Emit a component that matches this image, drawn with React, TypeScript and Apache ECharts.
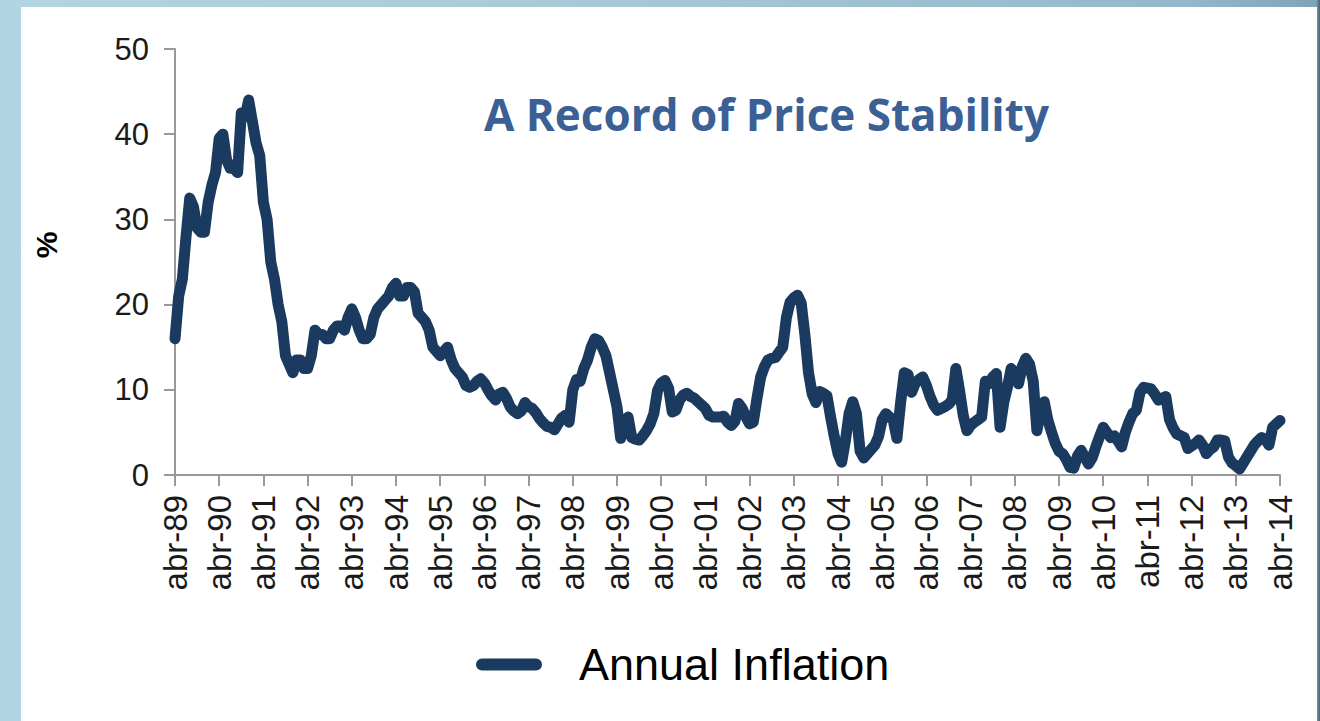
import React, { useEffect, useRef } from "react";
import * as echarts from "echarts";

const monthNames = ["ene", "feb", "mar", "abr", "may", "jun", "jul", "ago", "sep", "oct", "nov", "dic"];
const startYear = 1989;
const startMonth = 3; // abr

const inflation = [
  16, 21, 23, 28, 32.5, 31.5, 29, 28.5, 28.5, 32, 34, 35.5,
  39.5, 40, 37, 36, 36, 35.5, 42.5, 42, 44, 41.5, 39, 37.5,
  32, 30, 25, 23, 20, 18, 14, 13, 12, 13.5, 13.5, 12.5,
  12.5, 14, 17, 16.5, 16.5, 16, 16, 17, 17.5, 17.5, 17, 18.5,
  19.5, 18.5, 17, 16, 16, 16.5, 18.5, 19.5, 20, 20.5, 21, 22,
  22.5, 21, 21, 22, 22, 21.5, 19, 18.5, 18, 17, 15, 14.5,
  14, 14.5, 15, 13.5, 12.5, 12, 11.5, 10.5, 10.3, 10.5, 11, 11.3,
  10.8, 10, 9.3, 8.8, 9.5, 9.7, 9, 8, 7.5, 7.2, 7.5, 8.5,
  8, 7.8, 7.3, 6.6, 6.1, 5.7, 5.6, 5.3, 6, 6.7, 7, 6.2,
  10, 11.2, 11, 12.5, 13.5, 15, 16, 15.8, 15, 14, 12, 10,
  8, 4.3, 5.5, 6.8, 4.4, 4.2, 4.1, 4.6, 5.2, 6, 7.2, 9.9,
  10.8, 11.1, 10.2, 7.4, 7.6, 8.8, 9.4, 9.6, 9.2, 9, 8.6, 8.2,
  7.8, 7, 6.8, 6.8, 6.8, 6.9, 6.2, 5.8, 6.3, 8.4, 7.8, 6.8,
  6, 6.2, 9, 11.5, 12.7, 13.5, 13.7, 13.8, 14.4, 15, 18.5, 20.3,
  20.8, 21.1, 20.2, 16.5, 12, 9.5, 8.5, 9.8, 9.6, 9.3, 6.8, 4.5,
  2.5, 1.5, 4, 7.2, 8.6, 7.2, 2.8, 2, 2.5, 3, 3.5, 4.5,
  6.5, 7.2, 6.8, 6.4, 4.3, 8.5, 12, 11.8, 9.7, 10.8, 11.2, 11.5,
  10.5, 9.2, 8.2, 7.6, 7.8, 8, 8.3, 8.8, 12.5, 9.9, 7, 5.2,
  5.8, 6.2, 6.5, 6.8, 11, 10.7, 11.5, 11.9, 5.6, 8.5, 10.3, 12.5,
  12, 10.7, 12.7, 13.7, 13, 11, 5.2, 7.5, 8.6, 6.4, 5, 3.7,
  2.8, 2.5, 1.8, 0.9, 0.8, 2.2, 2.9, 2.1, 1.3, 2, 3.3, 4.5,
  5.6, 5, 4.4, 4.6, 4, 3.3, 5, 6.2, 7.2, 7.6, 9.7, 10.3,
  10.2, 10.1, 9.5, 8.8, 9, 9.2, 6.5, 5.5, 4.8, 4.6, 4.4, 3.1,
  3.4, 3.7, 4.1, 3.5, 2.5, 3, 3.3, 4.1, 4.1, 4, 2.1, 1.4,
  1.1, 0.7, 1.4, 2.1, 2.8, 3.5, 4, 4.4, 4.2, 3.5, 5.6, 6,
  6.4,
];

const categories = inflation.map((_, i) => {
  const mi = startMonth + i;
  const y = (startYear + Math.floor(mi / 12)) % 100;
  return monthNames[mi % 12] + "-" + String(y).padStart(2, "0");
});

const seriesName = "Annual Inflation";
const titleText = "A Record of Price Stability";
const yAxisName = "%";

export default function App() {
  const ref = useRef<HTMLDivElement>(null);
  useEffect(() => {
    if (!ref.current) return;
    const chart = echarts.init(ref.current, undefined, { renderer: "svg" });
    chart.setOption({
      animation: false,
      backgroundColor: "transparent",
      graphic: [
        {
          type: "rect",
          z: -10,
          silent: true,
          shape: { x: 21, y: 7, width: 1296, height: 720 },
          style: { fill: "#ffffff" },
        },
        {
          type: "text",
          left: 484,
          top: 92,
          z: 10,
          style: {
            text: titleText,
            fill: "#3a6095",
            font: "bold 44px 'Open Sans', sans-serif",
          },
        },
        {
          type: "text",
          x: 46,
          y: 245,
          rotation: Math.PI / 2,
          z: 10,
          style: {
            text: yAxisName,
            fill: "#000",
            align: "center",
            verticalAlign: "middle",
            font: "bold 30px 'Liberation Sans', Arial, sans-serif",
          },
        },
      ],
      legend: {
        data: [seriesName],
        left: 471,
        top: 637,
        itemWidth: 66,
        itemHeight: 13,
        icon: "path://M6,0 L60,0 A6,6 0 0 1 60,12 L6,12 A6,6 0 0 1 6,0 Z",
        textStyle: {
          color: "#000",
          fontSize: 45,
          fontFamily: "'Liberation Sans', Arial, sans-serif",
          padding: [0, 0, 0, 32],
        },
      },
      grid: { left: 175, right: 40, top: 49, bottom: 246, containLabel: false },
      xAxis: {
        type: "category",
        data: categories,
        boundaryGap: false,
        axisLine: { lineStyle: { color: "#999", width: 2 } },
        axisTick: { interval: 11, length: 11, lineStyle: { color: "#999", width: 2 } },
        axisLabel: {
          interval: 11,
          rotate: 90,
          margin: 20,
          color: "#1a1a1a",
          fontSize: 33,
          fontFamily: "'Liberation Sans', Arial, sans-serif",
        },
      },
      yAxis: {
        type: "value",
        min: 0,
        max: 50,
        interval: 10,
        splitLine: { show: false },
        axisLine: { show: true, lineStyle: { color: "#999", width: 2 } },
        axisTick: { show: true, length: 11, lineStyle: { color: "#999", width: 2 } },
        axisLabel: {
          margin: 26,
          color: "#1a1a1a",
          fontSize: 31,
          fontFamily: "'Liberation Sans', Arial, sans-serif",
        },
      },
      series: [
        {
          name: seriesName,
          type: "line",
          data: inflation,
          symbol: "none",
          smooth: false,
          color: "#1b3a60",
          lineStyle: { color: "#1b3a60", width: 11, cap: "round", join: "round" },
        },
      ],
    });
    return () => chart.dispose();
  }, []);
  return (
    <div
      style={{
        position: "absolute",
        left: 0,
        top: 0,
        width: 1320,
        height: 721,
        background:
          "linear-gradient(90deg, #b3d4e3 0%, #a9cad9 40%, #94b8cb 90%, #7fa3b8 99.7%, #4a6272 100%)",
      }}
    >
      <div ref={ref} style={{ width: 1320, height: 721 }} />
    </div>
  );
}
